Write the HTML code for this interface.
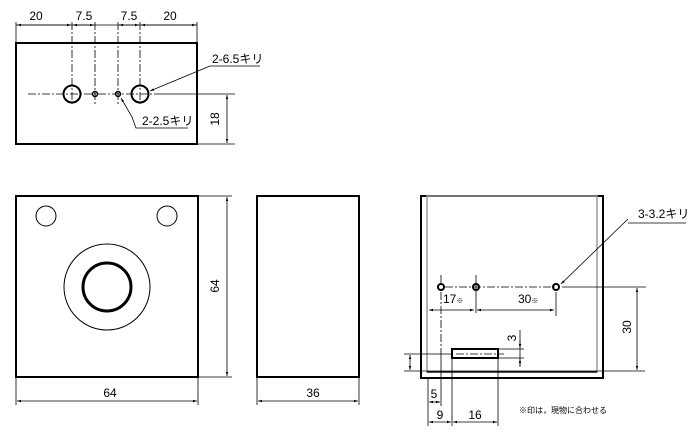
<!DOCTYPE html>
<html><head><meta charset="utf-8"><style>
html,body{margin:0;padding:0;background:#fff;}
svg{display:block;}
text{font-family:"Liberation Sans","Noto Sans CJK JP",sans-serif;font-size:12px;fill:#000;}
</style></head><body>
<svg width="700" height="440" viewBox="0 0 700 440" xmlns="http://www.w3.org/2000/svg">
<defs>
<marker id="a" viewBox="0 0 10 10" refX="10" refY="5" markerWidth="5" markerHeight="5" orient="auto-start-reverse"><path d="M0,2 L10,5 L0,8 z" fill="#000"/></marker>
<marker id="t" viewBox="0 0 6 6" refX="3" refY="3" markerWidth="4" markerHeight="4"><path d="M3,0V6" stroke="#000" stroke-width="1.5"/></marker>
</defs>
<g fill="none" stroke="#000">
<!-- top view -->
<rect x="16" y="43" width="181" height="101" stroke-width="2"/>
<g stroke-width="0.8" stroke-dasharray="8,2,2,2">
<line x1="28" y1="94" x2="160" y2="94"/>
<line x1="72" y1="22" x2="72" y2="105"/>
<line x1="95" y1="22" x2="95" y2="105"/>
<line x1="118" y1="22" x2="118" y2="105"/>
<line x1="140" y1="22" x2="140" y2="105"/>
</g>
<line x1="16" y1="22" x2="16" y2="43" stroke-width="0.8"/>
<line x1="197" y1="22" x2="197" y2="43" stroke-width="0.8"/>
<line x1="16" y1="25" x2="197" y2="25" stroke-width="0.8"/>
<g stroke-width="0.8" marker-start="url(#a)" marker-end="url(#a)">
<line x1="17" y1="25" x2="71" y2="25"/><line x1="73" y1="25" x2="94" y2="25"/>
<line x1="119" y1="25" x2="139" y2="25"/><line x1="141" y1="25" x2="196" y2="25"/>
<line x1="227" y1="95" x2="227" y2="143"/>
</g>
<circle cx="72" cy="94" r="8.5" stroke-width="2"/>
<circle cx="140" cy="94" r="8.5" stroke-width="2"/>
<circle cx="95" cy="94" r="2.5" stroke-width="1.5"/>
<circle cx="118" cy="94" r="2.5" stroke-width="1.5"/>
<line x1="160" y1="94" x2="235" y2="94" stroke-width="0.8"/>
<line x1="197" y1="144" x2="235" y2="144" stroke-width="0.8"/>
<line x1="210" y1="66" x2="150" y2="91" stroke-width="0.8" marker-end="url(#a)"/>
<line x1="210" y1="66" x2="260" y2="66" stroke-width="0.8"/>
<polyline points="188,128 136,128 132,117 121,98" stroke-width="0.8" marker-end="url(#a)"/>
<!-- front view -->
<rect x="16" y="196" width="182" height="181" stroke-width="2"/>
<circle cx="46" cy="216" r="10" stroke-width="1"/>
<circle cx="167" cy="216" r="10" stroke-width="1"/>
<circle cx="107" cy="287" r="43" stroke-width="1"/>
<circle cx="107" cy="287" r="24" stroke-width="3"/>
<line x1="198" y1="196" x2="232" y2="196" stroke-width="0.8"/>
<line x1="198" y1="377" x2="232" y2="377" stroke-width="0.8"/>
<line x1="227" y1="197" x2="227" y2="376" stroke-width="0.8" marker-start="url(#a)" marker-end="url(#a)"/>
<line x1="16" y1="377" x2="16" y2="405" stroke-width="0.8"/>
<line x1="198" y1="377" x2="198" y2="405" stroke-width="0.8"/>
<line x1="17" y1="401" x2="197" y2="401" stroke-width="0.8" marker-start="url(#a)" marker-end="url(#a)"/>
<!-- side view -->
<rect x="257" y="196" width="102" height="181" stroke-width="2"/>
<line x1="257" y1="377" x2="257" y2="405" stroke-width="0.8"/>
<line x1="359" y1="377" x2="359" y2="405" stroke-width="0.8"/>
<line x1="258" y1="401" x2="358" y2="401" stroke-width="0.8" marker-start="url(#a)" marker-end="url(#a)"/>
<!-- right view -->
<rect x="421" y="196" width="182" height="182" stroke-width="2"/>
<rect x="427" y="196" width="170" height="176" stroke="#999" stroke-width="1.5"/>
<line x1="427" y1="372" x2="597" y2="372" stroke-width="1.2"/>
<g stroke-width="0.8" stroke-dasharray="8,2,2,2">
<line x1="445" y1="287" x2="555" y2="287"/>
<line x1="441" y1="292" x2="441" y2="354"/>
<line x1="456" y1="354" x2="504" y2="354"/>
</g>
<line x1="441" y1="275" x2="441" y2="283" stroke-width="0.8"/>
<line x1="476" y1="275" x2="476" y2="313" stroke-width="0.8"/>
<line x1="556" y1="292" x2="556" y2="316" stroke-width="0.8"/>
<circle cx="441" cy="287" r="3" stroke-width="2"/>
<circle cx="476" cy="287" r="3" stroke-width="2"/>
<circle cx="556" cy="287" r="3" stroke-width="2"/>
<line x1="562" y1="287" x2="646" y2="287" stroke-width="0.8"/>
<line x1="404" y1="371" x2="645" y2="371" stroke-width="0.8"/>
<line x1="637" y1="288" x2="637" y2="370" stroke-width="0.8" marker-start="url(#a)" marker-end="url(#a)"/>
<line x1="429" y1="310" x2="474" y2="310" stroke-width="0.8" marker-start="url(#a)" marker-end="url(#a)"/>
<line x1="477" y1="310" x2="554" y2="310" stroke-width="0.8" marker-start="url(#a)" marker-end="url(#a)"/>
<line x1="628" y1="219" x2="561" y2="284" stroke-width="0.8" marker-end="url(#a)"/>
<line x1="628" y1="223" x2="686" y2="223" stroke-width="0.8"/>
<rect x="452" y="349" width="46" height="9" stroke-width="2"/>
<line x1="498" y1="349" x2="524" y2="349" stroke-width="0.8"/>
<line x1="452" y1="358" x2="524" y2="358" stroke-width="0.8"/>
<line x1="404" y1="354" x2="452" y2="354" stroke-width="0.8"/>
<line x1="520" y1="330" x2="520" y2="366" stroke-width="0.8"/>
<line x1="520" y1="340" x2="520" y2="348" stroke-width="0.8" marker-end="url(#a)"/>
<line x1="520" y1="367" x2="520" y2="359" stroke-width="0.8" marker-end="url(#a)"/>
<line x1="410" y1="355" x2="410" y2="370" stroke-width="0.8" marker-start="url(#a)" marker-end="url(#a)"/>
<line x1="428" y1="378" x2="428" y2="426" stroke-width="0.8"/>
<line x1="441" y1="354" x2="441" y2="406" stroke-width="0.8"/>
<line x1="452" y1="358" x2="452" y2="426" stroke-width="0.8"/>
<line x1="498" y1="358" x2="498" y2="426" stroke-width="0.8"/>
<line x1="429" y1="402" x2="440" y2="402" stroke-width="0.8" marker-start="url(#a)" marker-end="url(#a)"/>
<line x1="429" y1="422" x2="451" y2="422" stroke-width="0.8" marker-start="url(#a)" marker-end="url(#a)"/>
<line x1="453" y1="422" x2="497" y2="422" stroke-width="0.8" marker-start="url(#a)" marker-end="url(#a)"/>
</g>
<text x="36" y="20" text-anchor="middle">20</text>
<text x="84" y="20" text-anchor="middle">7.5</text>
<text x="129" y="20" text-anchor="middle">7.5</text>
<text x="170" y="20" text-anchor="middle">20</text>
<text x="212" y="63">2-6.5キリ</text>
<text x="142" y="125">2-2.5キリ</text>
<text transform="translate(219,119) rotate(-90)" text-anchor="middle">18</text>
<text transform="translate(219,286) rotate(-90)" text-anchor="middle">64</text>
<text x="110" y="397" text-anchor="middle">64</text>
<text x="313" y="397" text-anchor="middle">36</text>
<text x="638" y="218">3-3.2キリ</text>
<text x="443" y="303">17<tspan font-size="7">※</tspan></text>
<text x="518" y="303">30<tspan font-size="7">※</tspan></text>
<text transform="translate(631,327) rotate(-90)" text-anchor="middle">30</text>
<text transform="translate(516,338) rotate(-90)" text-anchor="middle">3</text>
<text x="434" y="398" text-anchor="middle">5</text>
<text x="440" y="419" text-anchor="middle">9</text>
<text x="475" y="419" text-anchor="middle">16</text>
<text x="519" y="413" style="font-size:8px">※印は，現物に合わせる</text>
</svg>
</body></html>
